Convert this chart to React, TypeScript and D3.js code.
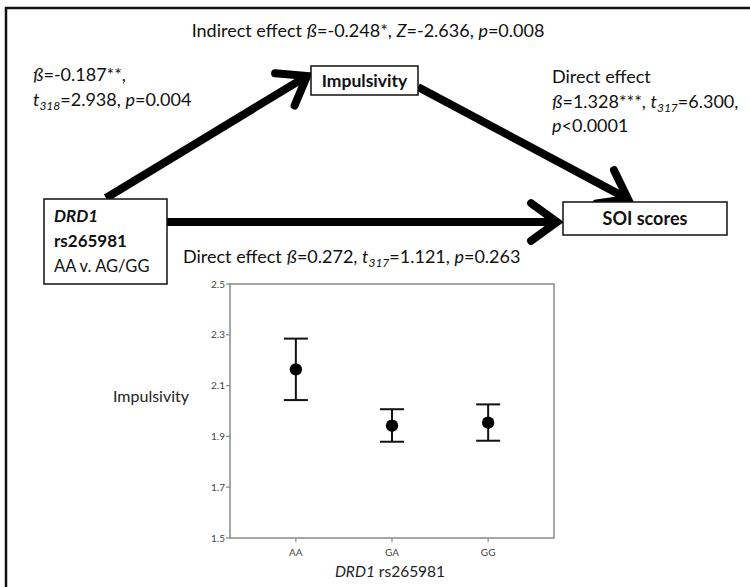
import React from "react";
import * as d3 from "d3";

const categories = ["AA", "GA", "GG"];
const means = [2.164, 1.942, 1.954];
const upper = [2.285, 2.007, 2.026];
const lower = [2.043, 1.879, 1.883];
const yTicks = [1.5, 1.7, 1.9, 2.1, 2.3, 2.5];

const FONT = "Lato, 'Open Sans', sans-serif";

function Arrow({ x1, y1, x2, y2, w = 8, head = 32, angle = 36 }: any) {
  const a = Math.atan2(y2 - y1, x2 - x1);
  const r = (angle * Math.PI) / 180;
  const ax1 = x2 - head * Math.cos(a - r);
  const ay1 = y2 - head * Math.sin(a - r);
  const ax2 = x2 - head * Math.cos(a + r);
  const ay2 = y2 - head * Math.sin(a + r);
  const ex = x2 - (w / 2) * Math.cos(a);
  const ey = y2 - (w / 2) * Math.sin(a);
  return (
    <g stroke="#000" strokeWidth={w} fill="none" strokeLinecap="round" strokeLinejoin="miter">
      <line x1={x1} y1={y1} x2={ex} y2={ey} strokeLinecap="butt" />
      <polyline points={`${ax1},${ay1} ${x2},${y2} ${ax2},${ay2}`} strokeMiterlimit={4} />
    </g>
  );
}

export default function App() {
  const plot = { left: 230, right: 554, top: 284, bottom: 538 };
  const x = d3.scalePoint<string>().domain(categories).range([plot.left, plot.right]).padding(0.685);
  const y = d3.scaleLinear().domain([1.5, 2.5]).range([plot.bottom, plot.top]);
  const fmt = d3.format(".1f");
  const sub = { fontSize: 12, fontStyle: "italic" as const };

  return (
    <svg width={750} height={587} style={{ position: "absolute", left: 0, top: 0, background: "#fff" }} fontFamily={FONT}>
      <rect x={0} y={0} width={750} height={587} fill="#fff" />
      {/* outer frame */}
      <rect x={6} y={8} width={800} height={640} fill="none" stroke="#111" strokeWidth={2.5} />

      {/* title */}
      <text x={368} y={37} fontSize={18} textAnchor="middle" fill="#111">
        Indirect effect <tspan fontStyle="italic">ß</tspan>=-0.248*, <tspan fontStyle="italic">Z</tspan>=-2.636,{" "}
        <tspan fontStyle="italic">p</tspan>=0.008
      </text>

      {/* left path text */}
      <text x={33} y={81} fontSize={18} fill="#111">
        <tspan fontStyle="italic">ß</tspan>=-0.187**,
      </text>
      <text x={33} y={106} fontSize={18} fill="#111">
        <tspan fontStyle="italic">t</tspan>
        <tspan {...sub} dy={4}>318</tspan>
        <tspan dy={-4}>=2.938, </tspan>
        <tspan fontStyle="italic">p</tspan>=0.004
      </text>

      {/* right path text */}
      <text x={552} y={83} fontSize={18} fill="#111">Direct effect</text>
      <text x={552} y={108} fontSize={18} fill="#111">
        <tspan fontStyle="italic">ß</tspan>=1.328***, <tspan fontStyle="italic">t</tspan>
        <tspan {...sub} dy={4}>317</tspan>
        <tspan dy={-4}>=6.300,</tspan>
      </text>
      <text x={552} y={132} fontSize={18} fill="#111">
        <tspan fontStyle="italic">p</tspan>&lt;0.0001
      </text>

      {/* bottom direct text */}
      <text x={183} y={263} fontSize={18} fill="#111">
        Direct effect <tspan fontStyle="italic">ß</tspan>=0.272, <tspan fontStyle="italic">t</tspan>
        <tspan {...sub} dy={4}>317</tspan>
        <tspan dy={-4}>=1.121, </tspan>
        <tspan fontStyle="italic">p</tspan>=0.263
      </text>

      {/* arrows */}
      <Arrow x1={106} y1={198} x2={307} y2={76} />
      <Arrow x1={418} y1={87} x2={628} y2={199} />
      <Arrow x1={167} y1={222} x2={557} y2={222} />

      {/* boxes */}
      <rect x={311} y={66} width={107} height={29} fill="#fff" stroke="#111" strokeWidth={1.5} />
      <text x={364.5} y={86.5} fontSize={17.5} fontWeight="bold" textAnchor="middle" fill="#111">Impulsivity</text>

      <rect x={44} y={199} width={123} height={85} fill="#fff" stroke="#111" strokeWidth={1.5} />
      <text x={54} y={222} fontSize={17} fontWeight="bold" fontStyle="italic" fill="#111">DRD1</text>
      <text x={54} y={247} fontSize={17} fontWeight="bold" fill="#111">rs265981</text>
      <text x={54} y={272} fontSize={16.5} fill="#111">AA v. AG/GG</text>

      <rect x={563} y={202} width={164} height={33} fill="#fff" stroke="#111" strokeWidth={1.5} />
      <text x={645} y={224.5} fontSize={18} fontWeight="bold" textAnchor="middle" fill="#111">SOI scores</text>

      {/* inset chart */}
      <rect x={plot.left} y={plot.top} width={plot.right - plot.left} height={plot.bottom - plot.top} fill="#fff" stroke="#888" strokeWidth={1.5} />
      {yTicks.map((t) => (
        <g key={t}>
          <line x1={plot.left - 4} x2={plot.left} y1={y(t)} y2={y(t)} stroke="#888" strokeWidth={1.2} />
          <text x={plot.left - 5} y={y(t) + 3.5} fontSize={10} textAnchor="end" fill="#444">{fmt(t)}</text>
        </g>
      ))}
      {categories.map((c) => (
        <g key={c}>
          <line x1={x(c)!} x2={x(c)!} y1={plot.bottom} y2={plot.bottom + 4} stroke="#888" strokeWidth={1.2} />
          <text x={x(c)!} y={556} fontSize={10} textAnchor="middle" fill="#444">{c}</text>
        </g>
      ))}
      <text x={113} y={402} fontSize={16} fill="#222">Impulsivity</text>
      <text x={390} y={577} fontSize={15.5} textAnchor="middle" fill="#222">
        <tspan fontStyle="italic">DRD1</tspan> rs265981
      </text>

      {categories.map((c, i) => {
        const cx = x(c)!;
        return (
          <g key={c} stroke="#111" strokeWidth={2}>
            <line x1={cx} x2={cx} y1={y(upper[i])} y2={y(lower[i])} />
            <line x1={cx - 12} x2={cx + 12} y1={y(upper[i])} y2={y(upper[i])} />
            <line x1={cx - 12} x2={cx + 12} y1={y(lower[i])} y2={y(lower[i])} />
            <circle cx={cx} cy={y(means[i])} r={6.2} fill="#000" stroke="none" />
          </g>
        );
      })}
    </svg>
  );
}
